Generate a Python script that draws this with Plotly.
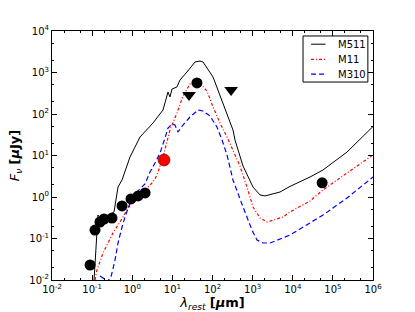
import plotly.graph_objects as go

# ---- data ----
m511_wave = [0.111, 0.132, 0.140, 0.157, 0.249, 0.351, 0.394, 0.442, 0.556, 0.879, 1.56, 3.29, 5.84, 7.78,
             8.73, 9.80, 13.0, 15.5, 23.1, 36.6, 48.8, 58.0, 103, 183, 324, 364, 576, 1021, 1527, 2034,
             4809, 8530, 26900, 56800, 225000, 1e6]
m511_flux = [0.009, 0.109, 0.368, 0.312, 0.348, 0.436, 0.847, 1.74, 2.57, 9.2, 27.9, 60.7, 125, 339,
             257, 400, 448, 659, 1028, 1790, 1890, 1790, 780, 184, 41.1, 23.6, 5.58, 1.74, 1.12, 1.06,
             1.32, 1.80, 3.03, 4.48, 12.1, 50.0]

m11_wave = [0.118, 0.132, 0.187, 0.331, 0.495, 0.740, 1.17, 2.08, 3.29, 4.14, 4.92, 5.84, 8.73, 13.0,
            18.4, 27.5, 43.5, 73.0, 103, 154, 230, 324, 484, 724, 1021, 1527, 2280, 5710, 8530,
            26900, 56800, 225000, 1e6]
m11_flux = [0.010, 0.0174, 0.0448, 0.136, 0.25, 0.486, 0.946, 1.48, 2.30, 3.39, 5.58, 9.20, 41.1, 106,
            272, 528, 624, 358, 148, 60.7, 27.9, 13.6, 5.58, 1.74, 0.574, 0.312, 0.25, 0.33, 0.436,
            0.80, 1.48, 3.79, 10.3]

m310_wave = [0.157, 0.187, 0.235, 0.295, 0.372, 0.442, 0.556, 0.660, 0.879, 1.39, 2.08, 2.77, 3.69,
             4.92, 6.55, 7.78, 9.80, 11.6, 13.8, 18.4, 27.5, 43.5, 58.0, 86.7, 129, 173, 230, 324, 576,
             964, 1285, 1815, 2710, 4809, 8530, 56800, 225000, 1e6]
m310_flux = [0.0125, 0.0112, 0.00895, 0.0118, 0.0303, 0.078, 0.189, 0.33, 0.717, 1.40, 2.06, 4.0, 6.59,
             11.5, 26.4, 46.0, 57.4, 54.3, 36.8, 54.3, 84.7, 125, 118, 89.5, 48.6, 23.6, 10.3, 2.57,
             0.574, 0.160, 0.092, 0.078, 0.078, 0.0973, 0.121, 0.368, 0.946, 3.03]

obs_wave = [0.089, 0.118, 0.157, 0.198, 0.313, 0.557, 0.93, 1.4, 2.09, 41, 54000]
obs_flux = [0.023, 0.16, 0.25, 0.295, 0.31, 0.61, 0.9, 1.06, 1.25, 560, 2.2]

red_wave = [6.2]
red_flux = [7.8]

lim_wave = [26, 291]
lim_flux = [287, 378]

model_names = ["M511", "M11", "M310"]

xtick_vals = [1e-2, 1e-1, 1e0, 1e1, 1e2, 1e3, 1e4, 1e5, 1e6]
xtick_text = ["10<sup>-2</sup>", "10<sup>-1</sup>", "10<sup>0</sup>", "10<sup>1</sup>", "10<sup>2</sup>",
              "10<sup>3</sup>", "10<sup>4</sup>", "10<sup>5</sup>", "10<sup>6</sup>"]
ytick_vals = [1e-2, 1e-1, 1e0, 1e1, 1e2, 1e3, 1e4]
ytick_text = ["10<sup>-2</sup>", "10<sup>-1</sup>", "10<sup>0</sup>", "10<sup>1</sup>", "10<sup>2</sup>",
              "10<sup>3</sup>", "10<sup>4</sup>"]

FONT = "DejaVu Sans"
line_styles = [dict(color="black", width=1),
               dict(color="red", width=1.2, dash="3px,2px,1px,2px"),
               dict(color="blue", width=1.2, dash="5px,3px")]

fig = go.Figure()
for name, wv, fl, ls in zip(model_names, [m511_wave, m11_wave, m310_wave],
                            [m511_flux, m11_flux, m310_flux], line_styles):
    fig.add_trace(go.Scatter(x=wv, y=fl, mode="lines", name=name, line=ls, showlegend=False))

fig.add_trace(go.Scatter(x=obs_wave, y=obs_flux, mode="markers", showlegend=False,
                         marker=dict(color="black", size=11, line=dict(width=0))))
fig.add_trace(go.Scatter(x=red_wave, y=red_flux, mode="markers", showlegend=False,
                         marker=dict(color="red", size=12, line=dict(color="#400000", width=0.6))))
fig.add_trace(go.Scatter(x=lim_wave, y=lim_flux, mode="markers", showlegend=False,
                         marker=dict(color="black", size=12, symbol="triangle-down", line=dict(width=0))))

# ---- matplotlib-like legend box (paper coordinates) ----
fig.add_shape(type="rect", xref="paper", yref="paper", x0=0.782, x1=0.984, y0=0.795, y1=0.980,
              line=dict(color="black", width=1), fillcolor="white", layer="above")
legend_y = [0.947, 0.886, 0.827]
for name, ly, ls in zip(model_names, legend_y, line_styles):
    fig.add_shape(type="line", xref="paper", yref="paper", x0=0.807, x1=0.852, y0=ly, y1=ly,
                  line=ls, layer="above")
    fig.add_annotation(xref="paper", yref="paper", x=0.884, y=ly, text=name, showarrow=False,
                       xanchor="left", yanchor="middle", font=dict(family=FONT, size=10, color="black"))

axis_common = dict(type="log", showgrid=False, zeroline=False, showline=True, linecolor="black",
                   linewidth=1, mirror="allticks", ticks="inside", ticklen=5, tickcolor="black",
                   tickfont=dict(family=FONT, size=10, color="black"),
                   minor=dict(ticks="inside", ticklen=2, tickcolor="black", showgrid=False))

fig.update_xaxes(range=[-2, 6], tickvals=xtick_vals, ticktext=xtick_text,
                 title=dict(text="<i>λ</i><sub><i>rest</i></sub> <b>[<i>μ</i>m]</b>",
                            font=dict(family=FONT, size=13, color="black"), standoff=0),
                 **axis_common)
fig.update_yaxes(range=[-2, 4], tickvals=ytick_vals, ticktext=ytick_text,
                 title=dict(text="<i>F</i><sub><i>ν</i></sub> <b>[<i>μ</i>Jy]</b>",
                            font=dict(family=FONT, size=13, color="black"), standoff=6),
                 **axis_common)

fig.update_layout(
    width=415, height=312,
    margin=dict(l=52, r=42, t=31, b=32, autoexpand=False),
    paper_bgcolor="white", plot_bgcolor="white",
    font=dict(family=FONT, size=10, color="black"),
    showlegend=False,
)

fig.write_html("out.html", config={"displayModeBar": False},
               post_script="document.body.style.margin='0';")
